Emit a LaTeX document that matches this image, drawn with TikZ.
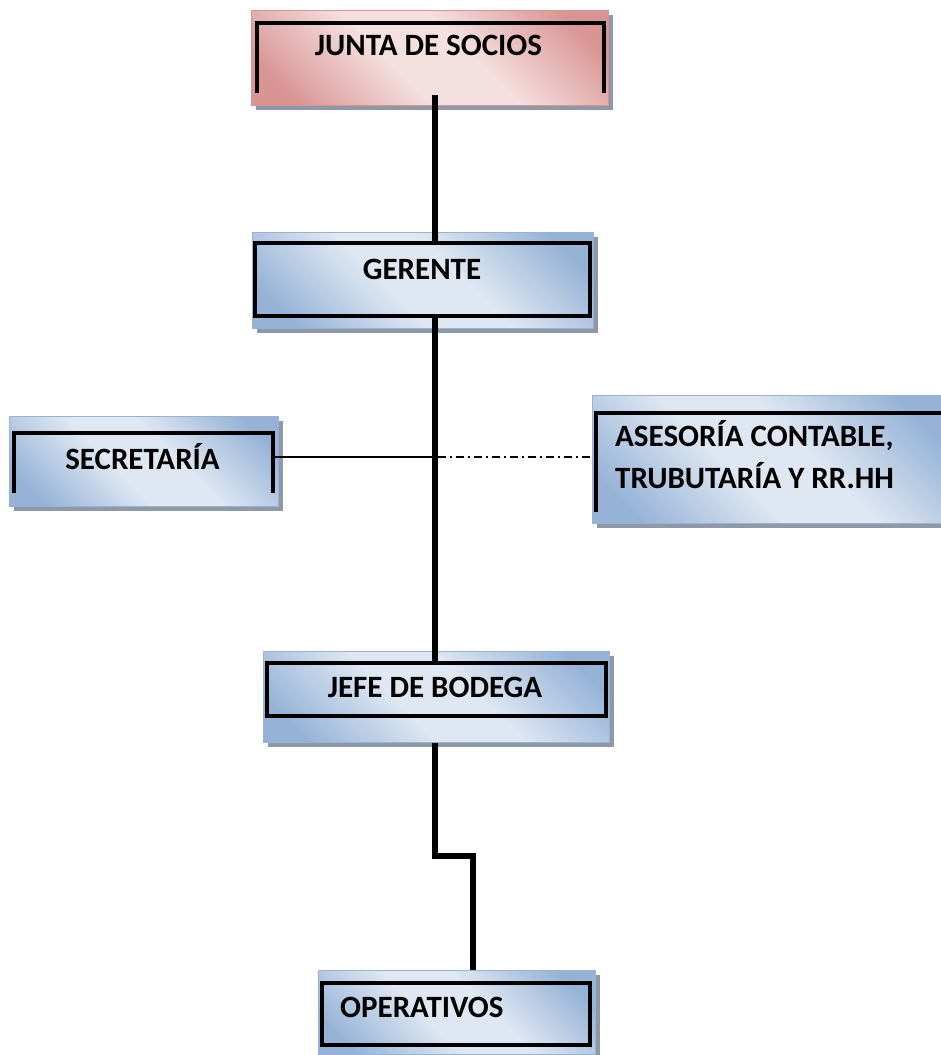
\documentclass[tikz,border=0pt]{standalone}
\usepackage{fontspec}
\setmainfont{Carlito}
\usetikzlibrary{calc,shadows}

\definecolor{blueDark}{RGB}{150,179,215}
\definecolor{blueLight}{RGB}{222,231,242}
\definecolor{pinkDark}{RGB}{217,149,148}
\definecolor{pinkLight}{RGB}{244,224,223}
\definecolor{shadowGray}{RGB}{143,152,166}

% soft gradient with a light band
\pgfdeclareverticalshading{blueband}{100bp}{color(0bp)=(blueDark); color(22bp)=(blueDark);
  color(43bp)=(blueLight); color(57bp)=(blueLight); color(78bp)=(blueDark); color(100bp)=(blueDark)}
\pgfdeclareverticalshading{pinkband}{100bp}{color(0bp)=(pinkDark); color(22bp)=(pinkDark);
  color(43bp)=(pinkLight); color(57bp)=(pinkLight); color(78bp)=(pinkDark); color(100bp)=(pinkDark)}

\begin{document}
\begin{tikzpicture}[x=1pt,y=-1pt,
  bluebox/.style={rectangle, inner sep=0pt, draw=blueDark, line width=0.8pt,
    shading=blueband, shading angle=-45,
    drop shadow={shadow xshift=5pt, shadow yshift=-5pt, fill=shadowGray, opacity=1}},
  pinkbox/.style={bluebox, draw=pinkDark, shading=pinkband, shading angle=-45},
  frame/.style={rectangle, inner sep=0pt, draw, line width=3.6pt},
  bracket/.style={draw, line width=3.6pt, line join=miter},
  trunkline/.style={line width=6pt, line join=miter},
  thinline/.style={line width=1.4pt},
  dotline/.style={line width=1.4pt, dash pattern=on 8pt off 4pt on 2pt off 4pt},
  lbl/.style={inner sep=0pt, font=\bfseries\fontsize{31}{42}\selectfont}]

\useasboundingbox (0,0) rectangle (941,1055);
\clip (0,0) rectangle (941,1055);

\def\trunkX{434.5}

% boxes
\node[pinkbox, minimum width=357pt, minimum height=95pt] (junta) at (429.5,57.5) {};
\node[bluebox, minimum width=341pt, minimum height=96pt] (gerente) at (422.5,280) {};
\node[bluebox, minimum width=269pt, minimum height=90pt] (secretaria) at (143.5,461) {};
\node[bluebox, minimum width=353pt, minimum height=128pt] (asesoria) at (768.5,459) {};
\node[bluebox, minimum width=346pt, minimum height=91pt] (jefe) at (436,696.5) {};
\node[bluebox, minimum width=277pt, minimum height=84pt] (operativos) at (456.5,1012) {};

% inner frames
\draw[bracket] (257,93) |- (604,23) -- (604,93);
\node[frame, minimum width=335pt, minimum height=73pt] (gerentefrm) at (422.5,279.5) {};
\draw[bracket] (14,493) |- (273,433) -- (273,493);
\draw[bracket] (596,512) |- (945,413);
\node[frame, minimum width=339pt, minimum height=53pt] (jefefrm) at (436.5,689.5) {};
\node[frame, minimum width=268pt, minimum height=62pt] (operativosfrm) at (456,1014) {};

% connectors
\coordinate (trunk) at (\trunkX,0);
\coordinate (branch) at (\trunkX,457);
\coordinate (jog) at (\trunkX,856);
\coordinate (drop) at (473,0);

\draw[trunkline] ([yshift=10pt]junta.south -| trunk) -- (gerentefrm.north -| trunk);
\draw[trunkline] (gerentefrm.south -| trunk) -- (jefefrm.north -| trunk);
\draw[trunkline] ([yshift=-1pt]jefe.south -| trunk) -- (jog) -| (operativos.north -| drop);
\draw[thinline] ([xshift=-4pt]secretaria.east |- branch) -- (branch);
\draw[dotline] ([xshift=3pt]branch) -- (asesoria.west |- branch);

% texts
\node[lbl, anchor=base] (juntatxt) at (428.5,55) {JUNTA DE SOCIOS};
\node[lbl, anchor=base] (gerentetxt) at (422,279) {GERENTE};
\node[lbl, anchor=base] (secretariatxt) at (142.5,469) {SECRETARÍA};
\node[lbl, anchor=base west, align=left] (asesoriatxt) at (615,488) {ASESORÍA CONTABLE,\\TRUBUTARÍA Y RR.HH};
\node[lbl, anchor=base] (jefetxt) at (435,697) {JEFE DE BODEGA};
\node[lbl, anchor=base west] (operativostxt) at (340,1017) {OPERATIVOS};

\end{tikzpicture}
\end{document}
